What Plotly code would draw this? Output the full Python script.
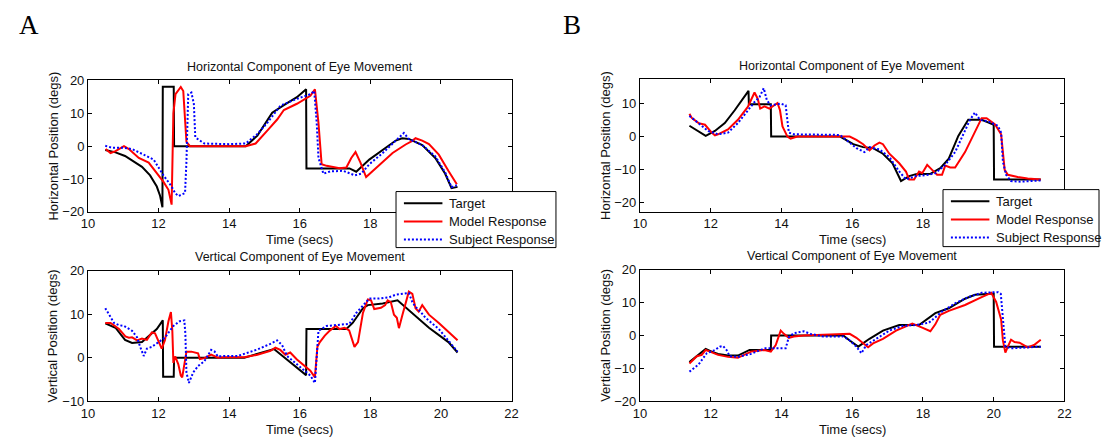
import plotly.graph_objects as go

# ---------------- Panel A : horizontal ----------------
a_h_target_t = [10.49, 10.78, 11.05, 11.25, 11.53, 11.76, 11.95, 12.04, 12.11, 12.12, 12.43, 12.44, 14.47, 14.80, 15.22, 15.55, 15.92, 16.18, 16.19, 17.41, 17.60, 17.97, 18.35, 18.72, 18.90, 19.09, 19.47, 19.84, 20.12, 20.30, 20.47]
a_h_target_y = [-1.2, -1.9, -3.0, -4.4, -6.3, -8.9, -12.3, -15.0, -18.6, 18.1, 18.1, 0.0, 0.0, 3.2, 10.2, 12.5, 14.9, 17.3, -6.8, -6.8, -7.8, -4.1, -1.2, 1.7, 2.4, 2.2, 0.3, -3.6, -8.4, -12.8, -12.4]

a_h_model_t = [10.50, 10.64, 10.78, 11.02, 11.16, 11.44, 11.72, 11.90, 12.14, 12.28, 12.37, 12.42, 12.48, 12.63, 12.70, 12.79, 12.89, 14.47, 14.75, 15.08, 15.36, 15.55, 15.92, 16.30, 16.43, 16.53, 16.62, 16.76, 17.13, 17.32, 17.46, 17.58, 17.72, 17.88, 18.07, 18.35, 18.63, 19.00, 19.19, 19.28, 19.47, 19.66, 19.94, 20.21, 20.45]
a_h_model_y = [-0.9, -2.1, -1.5, 0.0, -0.9, -3.6, -5.0, -7.5, -10.9, -13.3, -17.8, 10.0, 15.8, 18.0, 16.8, 1.3, 0.0, 0.0, 0.8, 4.7, 8.1, 11.0, 12.9, 15.3, 17.3, 7.1, -5.5, -6.0, -6.7, -6.5, -3.6, -1.8, -5.0, -9.4, -7.5, -4.6, -2.1, 0.5, 1.6, 2.4, 1.7, 0.6, -2.6, -7.5, -11.6]

a_h_subj_t = [10.49, 10.69, 11.02, 11.25, 11.62, 11.86, 12.14, 12.37, 12.47, 12.56, 12.75, 12.79, 12.84, 12.93, 13.00, 13.04, 13.17, 13.30, 14.00, 14.47, 14.80, 15.08, 15.46, 15.92, 16.30, 16.41, 16.48, 16.53, 16.67, 16.86, 17.23, 17.56, 17.74, 17.97, 18.35, 18.72, 18.95, 19.09, 19.47, 19.84, 20.12, 20.30, 20.45]
a_h_subj_y = [0.1, -0.5, -0.5, -0.9, -2.8, -4.1, -8.9, -12.3, -14.3, -15.2, -14.3, -4.6, 15.8, 16.3, 12.9, 2.7, 1.7, 0.8, 0.6, 0.8, 3.7, 7.1, 12.4, 14.4, 15.8, 16.8, 7.1, -3.6, -8.4, -7.7, -7.5, -8.9, -8.4, -5.5, -2.1, 1.7, 4.0, 2.2, 0.3, -3.1, -8.0, -12.5, -11.9]

# ---------------- Panel A : vertical ----------------
a_v_target_t = [10.49, 10.78, 11.05, 11.25, 11.53, 11.72, 11.95, 12.12, 12.13, 12.43, 12.44, 14.43, 15.27, 16.18, 16.19, 17.32, 17.50, 17.79, 17.93, 18.35, 18.72, 18.77, 19.66, 20.21, 20.47]
a_v_target_y = [7.9, 6.9, 4.1, 3.4, 3.6, 4.9, 6.6, 8.6, -4.4, -4.4, 0.0, 0.0, 2.0, -4.0, 6.6, 6.6, 8.0, 11.4, 12.1, 12.5, 13.0, 13.2, 6.9, 3.6, 1.2]

a_v_model_t = [10.49, 10.64, 10.88, 11.06, 11.16, 11.25, 11.39, 11.53, 11.67, 11.81, 11.90, 12.02, 12.09, 12.18, 12.28, 12.35, 12.39, 12.42, 12.47, 12.56, 12.63, 12.67, 12.73, 12.79, 12.93, 13.12, 13.17, 13.30, 13.49, 13.68, 13.87, 14.43, 14.80, 15.17, 15.31, 15.45, 15.59, 15.73, 15.92, 16.30, 16.43, 16.50, 16.57, 16.71, 16.86, 17.02, 17.13, 17.27, 17.40, 17.46, 17.55, 17.65, 17.79, 17.93, 18.02, 18.11, 18.30, 18.42, 18.49, 18.58, 18.67, 18.75, 18.81, 18.91, 19.00, 19.09, 19.19, 19.28, 19.37, 19.47, 19.66, 19.94, 20.47]
a_v_model_y = [8.0, 8.0, 6.6, 4.9, 4.6, 4.7, 4.0, 4.4, 4.1, 5.8, 5.6, 3.6, 2.1, 4.0, 8.4, 10.5, 6.2, -1.2, 0.3, -1.5, -4.1, -4.5, -1.5, 1.4, 1.4, 1.0, -0.3, -0.1, 0.7, 0.0, 0.1, 0.1, 0.7, 1.6, 2.3, 1.8, 0.7, 1.2, -0.4, -3.0, -4.5, 2.5, 3.6, 5.1, 6.3, 7.3, 6.6, 6.9, 6.3, 4.7, 2.5, 3.6, 10.3, 13.4, 13.2, 11.2, 11.5, 12.1, 13.2, 12.8, 9.9, 9.2, 6.8, 9.9, 12.5, 15.2, 14.7, 11.4, 10.6, 12.1, 9.9, 8.0, 4.0]

a_v_subj_t = [10.49, 10.60, 10.74, 10.88, 11.02, 11.25, 11.39, 11.48, 11.58, 11.67, 11.81, 12.00, 12.18, 12.32, 12.42, 12.60, 12.73, 12.76, 12.79, 12.86, 12.98, 13.12, 13.30, 13.49, 13.59, 13.68, 13.87, 14.24, 14.61, 14.80, 15.17, 15.36, 15.50, 15.64, 15.92, 16.30, 16.43, 16.48, 16.53, 16.76, 17.13, 17.41, 17.60, 17.79, 17.97, 18.25, 18.53, 18.72, 19.09, 19.19, 19.28, 19.42, 19.56, 19.94, 20.21, 20.47]
a_v_subj_y = [11.4, 9.9, 8.0, 7.5, 7.3, 6.2, 4.7, 2.5, 0.4, 2.1, 2.5, 3.6, 4.6, 6.2, 7.3, 8.4, 8.6, 5.5, -3.4, -5.8, -3.4, -1.9, -0.8, 1.8, 1.4, 0.3, 0.4, 0.4, 1.4, 1.9, 3.2, 4.0, 2.9, 0.4, -1.5, -4.1, -5.8, -0.4, 6.2, 7.3, 7.5, 7.8, 10.3, 12.1, 13.6, 13.6, 13.9, 14.5, 14.9, 12.8, 11.7, 10.6, 9.2, 6.6, 4.0, 1.4]

# ---------------- Panel B : horizontal ----------------
b_h_target_t = [11.40, 11.86, 12.12, 12.40, 12.68, 12.91, 13.07, 13.08, 13.70, 13.71, 15.66, 16.03, 16.31, 16.59, 16.87, 17.14, 17.33, 17.38, 17.61, 17.80, 18.21, 18.49, 18.73, 19.00, 19.28, 19.66, 19.84, 20.00, 20.01, 21.33]
b_h_target_y = [3.3, 0.2, 1.7, 4.1, 8.0, 11.5, 13.9, 9.8, 9.8, 0.0, 0.0, -2.3, -3.2, -3.5, -5.2, -8.1, -12.0, -13.5, -12.0, -11.4, -11.3, -9.6, -6.7, 0.2, 5.1, 5.1, 4.3, 3.6, -13.0, -13.0]

b_h_model_t = [11.40, 11.47, 11.66, 11.84, 12.03, 12.12, 12.21, 12.49, 12.77, 13.05, 13.24, 13.33, 13.40, 13.52, 13.66, 13.80, 13.89, 13.96, 14.03, 14.17, 14.26, 14.45, 15.93, 16.12, 16.31, 16.49, 16.63, 16.77, 16.87, 17.05, 17.33, 17.52, 17.61, 17.75, 17.89, 17.98, 18.12, 18.26, 18.40, 18.54, 18.63, 18.77, 18.91, 19.19, 19.47, 19.66, 19.80, 20.03, 20.21, 20.31, 20.40, 20.68, 20.96, 21.33]
b_h_model_y = [6.9, 5.6, 4.1, 3.6, 1.2, 0.4, 0.7, 2.2, 5.1, 9.0, 13.4, 11.5, 8.5, 9.2, 8.5, 9.5, 10.2, 8.0, 3.1, 0.0, -0.6, 0.0, 0.0, -1.0, -2.3, -4.2, -2.7, -1.8, -2.3, -5.2, -8.1, -10.6, -13.0, -13.0, -10.6, -11.1, -8.6, -10.1, -11.6, -11.6, -8.8, -9.4, -9.4, -4.7, 1.2, 5.6, 5.6, 3.8, 0.7, -10.1, -11.6, -12.3, -12.7, -13.0]

b_h_subj_t = [11.40, 11.66, 11.93, 12.21, 12.49, 12.77, 13.05, 13.24, 13.38, 13.50, 13.59, 13.70, 13.98, 14.12, 14.21, 14.35, 15.66, 15.93, 16.12, 16.35, 16.49, 16.77, 17.05, 17.33, 17.52, 17.80, 18.17, 18.35, 18.63, 18.91, 19.19, 19.33, 19.47, 19.61, 19.84, 20.12, 20.21, 20.26, 20.35, 20.49, 20.77, 21.33]
b_h_subj_y = [6.3, 4.1, 1.7, 0.7, 1.2, 4.1, 8.0, 10.5, 12.0, 14.7, 11.0, 9.5, 10.0, 9.5, 1.2, 0.7, 0.5, -1.8, -3.5, -4.7, -3.2, -3.9, -6.2, -10.6, -13.0, -12.0, -11.6, -11.1, -8.6, -4.7, 2.2, 5.1, 7.3, 5.1, 4.6, 3.3, 1.2, -7.6, -11.6, -13.5, -13.7, -13.3]

# ---------------- Panel B : vertical ----------------
b_v_target_t = [11.40, 11.86, 12.03, 12.21, 12.49, 12.77, 13.10, 13.70, 13.71, 15.75, 15.93, 16.17, 16.49, 16.87, 17.33, 17.89, 18.35, 18.73, 19.19, 19.47, 19.93, 20.00, 20.01, 21.33]
b_v_target_y = [-8.1, -4.1, -4.9, -5.6, -6.1, -6.1, -4.4, -4.4, 0.0, 0.0, -1.5, -3.4, -1.0, 1.5, 3.2, 3.2, 6.8, 8.3, 11.2, 12.4, 12.7, 12.7, -3.4, -3.4]

b_v_model_t = [11.40, 11.61, 11.75, 11.86, 11.98, 12.21, 12.49, 12.77, 13.14, 13.52, 13.70, 13.84, 13.98, 14.07, 14.21, 14.35, 14.63, 15.93, 16.12, 16.31, 16.45, 16.59, 16.87, 17.24, 17.52, 17.70, 17.98, 18.17, 18.21, 18.35, 18.49, 18.73, 19.19, 19.66, 19.93, 20.07, 20.21, 20.26, 20.33, 20.40, 20.49, 20.59, 20.73, 20.96, 21.14, 21.33]
b_v_model_y = [-8.5, -6.3, -5.9, -4.4, -4.9, -5.9, -6.5, -6.8, -4.9, -4.4, -4.9, -2.9, 1.5, 0.5, -0.7, -0.3, 0.0, 0.5, -0.7, -2.4, -3.6, -2.4, -1.0, 1.5, 2.9, 3.6, 2.4, 1.5, 1.3, 3.4, 6.3, 7.5, 9.3, 11.7, 13.0, 10.2, 4.9, -1.5, -5.2, -3.4, -1.3, -2.0, -2.2, -3.6, -2.9, -1.3]

b_v_subj_t = [11.40, 11.66, 11.89, 12.12, 12.26, 12.35, 12.45, 12.54, 12.77, 13.14, 13.52, 13.80, 14.12, 14.21, 14.35, 14.63, 14.82, 15.19, 15.75, 15.93, 16.12, 16.26, 16.40, 16.68, 17.05, 17.42, 17.80, 18.17, 18.54, 18.91, 19.28, 19.66, 20.12, 20.20, 20.26, 20.33, 20.49, 20.86, 21.33]
b_v_subj_y = [-11.0, -8.8, -5.4, -4.4, -3.4, -3.2, -4.4, -6.3, -6.5, -5.6, -3.9, -3.9, -3.9, -0.5, 0.7, 1.3, 0.5, -0.3, -0.3, -1.5, -3.4, -5.4, -2.9, -1.0, 1.5, 2.9, 3.2, 3.9, 7.3, 9.8, 11.7, 13.0, 13.2, 12.7, 5.4, -3.4, -3.9, -3.7, -3.4]

series_names = ["Target", "Model Response", "Subject Response"]
x_ticks = [10, 12, 14, 16, 18, 20, 22]
x_ticktext_full = ["10", "12", "14", "16", "18", "20", "22"]
# on the upper panels the 20 / 22 labels sit behind the legend box
x_ticktext_top = ["10", "12", "14", "16", "18", "", ""]

W, H = 1107, 444
FONT = "Liberation Sans, Arial, sans-serif"
TXT = "#111111"

styles = [dict(color="#000000", width=2),
          dict(color="#ff0000", width=2),
          dict(color="#0000ff", width=2, dash="2px,2px")]

panels = [
    ("", [(a_h_target_t, a_h_target_y), (a_h_model_t, a_h_model_y), (a_h_subj_t, a_h_subj_y)]),
    ("2", [(a_v_target_t, a_v_target_y), (a_v_model_t, a_v_model_y), (a_v_subj_t, a_v_subj_y)]),
    ("3", [(b_h_target_t, b_h_target_y), (b_h_model_t, b_h_model_y), (b_h_subj_t, b_h_subj_y)]),
    ("4", [(b_v_target_t, b_v_target_y), (b_v_model_t, b_v_model_y), (b_v_subj_t, b_v_subj_y)]),
]

fig = go.Figure()
for suf, data in panels:
    for name, (t, y), st in zip(series_names, data, styles):
        fig.add_trace(go.Scatter(x=t, y=y, mode="lines", name=name, line=st,
                                 xaxis="x" + suf, yaxis="y" + suf, showlegend=False))

# plot-area boxes in pixels: (left, right, top, bottom)
boxes = {
    "": (82, 511, 76, 212),
    "2": (82, 511, 273, 408),
    "3": (641, 1071, 75, 212),
    "4": (641, 1071, 272, 408),
}
yranges = {"": [-20, 20], "2": [-10, 20], "3": [-22.85, 17.35], "4": [-20, 20]}
yticks = {"": [-20, -10, 0, 10, 20], "2": [-10, 0, 10, 20], "3": [-20, -10, 0, 10], "4": [-20, -10, 0, 10, 20]}
xtext = {"": x_ticktext_top, "2": x_ticktext_full, "3": x_ticktext_top, "4": x_ticktext_full}

axis_common = dict(showline=True, linecolor="black", linewidth=1, mirror="ticks",
                   ticks="inside", ticklen=4, tickcolor="black", tickwidth=1,
                   showgrid=False, zeroline=False,
                   tickfont=dict(family=FONT, size=13, color=TXT))

layout = {}
for suf, (l, r, t, b) in boxes.items():
    xd = [l / W, r / W]
    yd = [1 - b / H, 1 - t / H]
    layout["xaxis" + suf] = dict(domain=xd, range=[10, 22], tickvals=x_ticks, ticktext=xtext[suf],
                                 anchor="y" + suf, **axis_common)
    layout["yaxis" + suf] = dict(domain=yd, range=yranges[suf], tickvals=yticks[suf],
                                 anchor="x" + suf, **axis_common)

fig.update_layout(**layout)

def px(x):
    return x / W

def py(y):
    return 1 - y / H

ann = []
shapes = []
titles = {"": "Horizontal Component of Eye Movement", "2": "Vertical Component of Eye Movement",
          "3": "Horizontal Component of Eye Movement", "4": "Vertical Component of Eye Movement"}
ylabels = {"": "Horizontal Position (degs)", "2": "Vertical Position (degs)",
           "3": "Horizontal Position (degs)", "4": "Vertical Position (degs)"}
for suf, (l, r, t, b) in boxes.items():
    cx = px((l + r) / 2)
    ann.append(dict(text=titles[suf], x=cx, y=py(t - 14), xref="paper", yref="paper",
                    showarrow=False, xanchor="center", yanchor="middle",
                    font=dict(family=FONT, size=12.5, color=TXT)))
    ann.append(dict(text="Time (secs)", x=cx, y=py(b + 29), xref="paper", yref="paper",
                    showarrow=False, xanchor="center", yanchor="middle",
                    font=dict(family=FONT, size=13, color=TXT)))
    ann.append(dict(text=ylabels[suf], x=px(l - 35), y=py((t + b) / 2), xref="paper", yref="paper",
                    showarrow=False, xanchor="center", yanchor="middle", textangle=-90,
                    font=dict(family=FONT, size=13, color=TXT)))
for letter, lx in (("A", 22), ("B", 572)):
    ann.append(dict(text=letter, x=px(lx), y=py(19), xref="paper", yref="paper", showarrow=False,
                    xanchor="center", yanchor="middle",
                    font=dict(family="Liberation Serif, Times New Roman, serif", size=27, color="black")))

# legend boxes (MATLAB-style, compact), one per panel column
legend_boxes = [(394, 556, 191, 249), (948, 1106, 189, 248)]
for (l, r, t, b) in legend_boxes:
    shapes.append(dict(type="rect", xref="paper", yref="paper", x0=px(l), x1=px(r), y0=py(b), y1=py(t),
                       fillcolor="white", line=dict(color="black", width=1), layer="above"))
    rows = [t + 12, t + 31, t + 49.5]
    for name, st, ry in zip(series_names, styles, rows):
        shapes.append(dict(type="line", xref="paper", yref="paper", x0=px(l + 8), x1=px(l + 47),
                           y0=py(ry), y1=py(ry), layer="above",
                           line=dict(color=st["color"], width=st["width"], dash=st.get("dash", "solid"))))
        ann.append(dict(text=name, x=px(l + 52), y=py(ry), xref="paper", yref="paper", showarrow=False,
                        xanchor="left", yanchor="middle",
                        font=dict(family=FONT, size=13, color=TXT)))

fig.update_layout(
    width=W, height=H,
    margin=dict(l=0, r=0, t=0, b=0),
    paper_bgcolor="white", plot_bgcolor="white",
    annotations=ann,
    shapes=shapes,
    showlegend=False,
)

fig.write_html("out.html")
